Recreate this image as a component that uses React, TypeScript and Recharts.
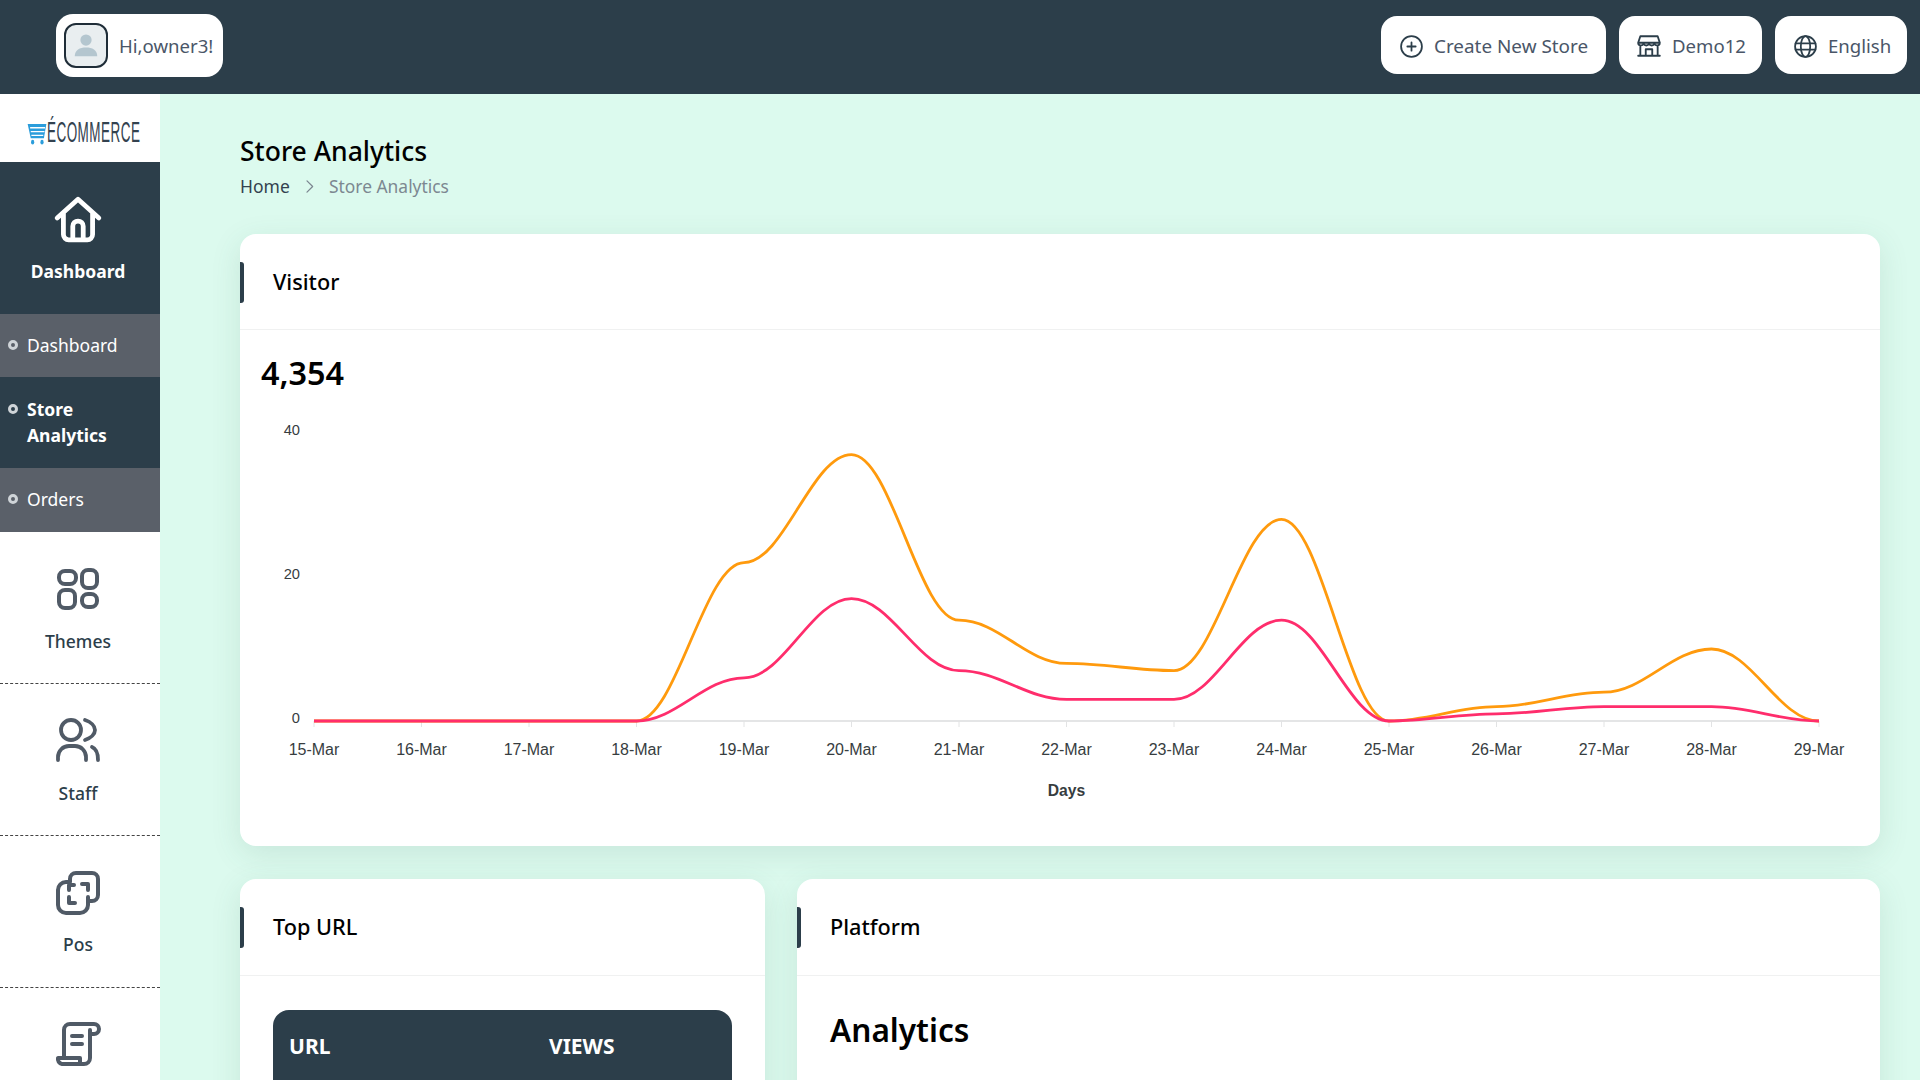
import { Label, Line, LineChart, XAxis, YAxis } from "recharts";
import type { CSSProperties, ReactNode } from "react";

const DAYS = [
  "15-Mar", "16-Mar", "17-Mar", "18-Mar", "19-Mar", "20-Mar", "21-Mar", "22-Mar",
  "23-Mar", "24-Mar", "25-Mar", "26-Mar", "27-Mar", "28-Mar", "29-Mar",
];
const PAGE_VIEWS = [0, 0, 0, 0, 22, 37, 14, 8, 7, 28, 0, 2, 4, 10, 0];
const UNIQUE_VISITORS = [0, 0, 0, 0, 6, 17, 7, 3, 3, 14, 0, 1, 2, 2, 0];
const Y_TICKS = [0, 20, 40];

const rows = DAYS.map((day, i) => ({ day, views: PAGE_VIEWS[i], unique: UNIQUE_VISITORS[i] }));

const DARK = "#2c3e4a";
const UI_FONT = "'Noto Sans', sans-serif";
const CHART_FONT = "'Liberation Sans', sans-serif";

// flat tangents at every point, like bumpX but with shorter handles
function flatSpline(context: any) {
  let px = 0;
  let py = 0;
  let n = 0;
  return {
    areaStart() {},
    areaEnd() {},
    lineStart() {
      n = 0;
    },
    lineEnd() {},
    point(x: number, y: number) {
      if (n === 0) {
        context.moveTo(x, y);
      } else {
        const d = (x - px) * 0.37;
        context.bezierCurveTo(px + d, py, x - d, y, x, y);
      }
      px = x;
      py = y;
      n++;
    },
  };
}

function Box({ x, y, w, h, style, children }: { x: number; y: number; w: number; h: number; style?: CSSProperties; children?: ReactNode }) {
  return <div style={{ position: "absolute", left: x, top: y, width: w, height: h, ...style }}>{children}</div>;
}

// cy is the vertical centre of the text line
function Txt({ x, cy, size, color = "#000", weight = 400, center, children }: { x: number; cy: number; size: number; color?: string; weight?: number; center?: boolean; children: ReactNode }) {
  return (
    <div
      style={{
        position: "absolute",
        left: x,
        top: cy - size,
        height: size * 2,
        lineHeight: `${size * 2}px`,
        fontSize: size,
        fontWeight: weight,
        color,
        whiteSpace: "nowrap",
        fontFamily: UI_FONT,
        transform: center ? "translateX(-50%)" : undefined,
      }}
    >
      {children}
    </div>
  );
}

function Icon({ cx, cy, size, stroke, sw = 2, children }: { cx: number; cy: number; size: number; stroke: string; sw?: number; children: ReactNode }) {
  return (
    <svg
      viewBox="0 0 24 24"
      width={size}
      height={size}
      fill="none"
      stroke={stroke}
      strokeWidth={sw}
      strokeLinecap="round"
      strokeLinejoin="round"
      style={{ position: "absolute", left: cx - size / 2, top: cy - size / 2 }}
    >
      {children}
    </svg>
  );
}

function Pill({ x, y, w, h, radius = 16 }: { x: number; y: number; w: number; h: number; radius?: number }) {
  return <Box x={x} y={y} w={w} h={h} style={{ background: "#fff", borderRadius: radius }} />;
}

function SideDot({ cy }: { cy: number }) {
  return <Box x={8} y={cy - 5} w={10} h={10} style={{ boxSizing: "border-box", border: "3px solid #cfd4d8", borderRadius: "50%" }} />;
}

function Card({ x, y, w, h, sep, title }: { x: number; y: number; w: number; h: number; sep: number; title: string }) {
  return (
    <>
      <Box x={x} y={y} w={w} h={h} style={{ background: "#fff", borderRadius: 16, boxShadow: "0 8px 30px rgba(60,110,95,0.13)" }} />
      <Box x={x} y={y + 28} w={4} h={41} style={{ background: DARK, borderRadius: "0 3px 3px 0" }} />
      <Box x={x} y={y + sep} w={w} h={1} style={{ background: "#f0f1f1" }} />
      <Txt x={x + 33} cy={y + 48} size={21.7} weight={500}>{title}</Txt>
    </>
  );
}

function VisitorChart() {
  return (
    <LineChart
      width={1640}
      height={400}
      data={rows}
      margin={{ top: 13, right: 61, bottom: 39, left: 14 }}
      style={{ position: "absolute", left: 240, top: 420 }}
    >
      <XAxis
        dataKey="day"
        interval={0}
        height={60}
        axisLine={{ stroke: "#e4e5e6", strokeWidth: 2 }}
        tickLine={{ stroke: "#e2e3e4" }}
        tickSize={6}
        tickMargin={17}
        tick={{ fill: "#373d3f", fontSize: 16, fontFamily: CHART_FONT }}
      >
        <Label
          value="Days"
          position="bottom"
          offset={4}
          style={{ fill: "#373d3f", fontSize: 15.7, fontWeight: 700, fontFamily: CHART_FONT }}
        />
      </XAxis>
      <YAxis
        domain={[0, 40]}
        ticks={Y_TICKS}
        width={60}
        axisLine={false}
        tickLine={false}
        tickMargin={8}
        tick={{ fill: "#373d3f", fontSize: 14.7, dy: -3, fontFamily: CHART_FONT }}
      />
      <Line dataKey="views" type={flatSpline as any} stroke="#ff9a0d" strokeWidth={2.8} dot={false} isAnimationActive={false} zIndex={600} />
      <Line dataKey="unique" type={flatSpline as any} stroke="#ff2d6c" strokeWidth={2.8} dot={false} isAnimationActive={false} zIndex={601} />
    </LineChart>
  );
}

export default function App() {
  return (
    <div style={{ position: "absolute", left: 0, top: 0, width: 1920, height: 1080, overflow: "hidden", background: "#dcfaee", fontFamily: UI_FONT }}>
      {/* top bar */}
      <Box x={0} y={0} w={1920} h={94} style={{ background: DARK }} />
      <Pill x={56} y={14} w={167} h={63} radius={17} />
      <Box x={64} y={23} w={44} h={45} style={{ boxSizing: "border-box", background: "#e9eef0", border: `2.5px solid #1f2d38`, borderRadius: 12 }} />
      <svg viewBox="0 0 24 24" width={30} height={30} style={{ position: "absolute", left: 71, top: 30 }} fill="#b4c6cf">
        <circle cx="12" cy="8" r="4.5" />
        <path d="M3 21c0-5 4-7 9-7s9 2 9 7z" />
      </svg>
      <Txt x={119} cy={46} size={18.6} color="#4a5668">Hi,owner3!</Txt>

      <Pill x={1381} y={16} w={225} h={58} />
      <Icon cx={1411} cy={46} size={25} stroke={DARK} sw={1.7}>
        <circle cx="12" cy="12" r="10" />
        <path d="M12 8v8M8 12h8" />
      </Icon>
      <Txt x={1434} cy={47} size={18.9} color="#4a5668">Create New Store</Txt>

      <Pill x={1619} y={16} w={143} h={58} />
      <Icon cx={1649} cy={46} size={26} stroke={DARK} sw={1.7}>
        <path d="M4 3h16l2 6H2zM2 9c0 3 4 3 5 1 1 2 4 2 5 0 1 2 4 2 5 0 1 2 5 2 5-1M4 12v9h16v-9M2 21h20M9 21v-6h6v6" />
      </Icon>
      <Txt x={1672} cy={46} size={18.6} color="#4a5668">Demo12</Txt>

      <Pill x={1775} y={16} w={132} h={58} />
      <Icon cx={1805} cy={46} size={25} stroke={DARK} sw={1.7}>
        <circle cx="12" cy="12" r="10" />
        <ellipse cx="12" cy="12" rx="4.5" ry="10" />
        <path d="M2.5 9h19M2.5 15h19" />
      </Icon>
      <Txt x={1828} cy={46} size={18.6} color="#4a5668">English</Txt>

      {/* sidebar */}
      <Box x={0} y={94} w={160} h={986} style={{ background: "#fff" }} />
      <svg viewBox="0 0 32 24" width={20} height={23} preserveAspectRatio="none" style={{ position: "absolute", left: 27, top: 122 }}>
        <path d="M1 2h30l-4 15H6z" fill="#2b9ddb" />
        <path d="M5 6h24M6 10h22M7 14h19" stroke="#fff" strokeWidth={1.4} />
        <circle cx="9" cy="21" r="2.6" fill="#2b9ddb" />
        <circle cx="24" cy="21" r="2.6" fill="#2b9ddb" />
      </svg>
      <div
        style={{
          position: "absolute",
          left: 47,
          top: 117,
          fontSize: 29,
          lineHeight: "30px",
          color: "#33424f",
          fontFamily: CHART_FONT,
          letterSpacing: 1,
          transform: "scaleX(0.465)",
          transformOrigin: "0 0",
          whiteSpace: "nowrap",
        }}
      >
        ÉCOMMERCE
      </div>

      <Box x={0} y={162} w={160} h={152} style={{ background: DARK }} />
      <Box x={0} y={314} w={160} h={63} style={{ background: "#5a6069" }} />
      <Box x={0} y={377} w={160} h={91} style={{ background: DARK }} />
      <Box x={0} y={468} w={160} h={64} style={{ background: "#5a6069" }} />

      <Icon cx={78} cy={220} size={50} stroke="#fff" sw={2.3}>
        <path d="M2 11 12 2l10 9M5 9v10a2.5 2.5 0 0 0 2.5 2.5h9A2.5 2.5 0 0 0 19 19V9M9.5 21v-6a2.5 2.5 0 0 1 5 0v6" />
      </Icon>
      <Txt x={78} cy={271} size={17.5} color="#fff" weight={700} center>Dashboard</Txt>

      <SideDot cy={345} />
      <Txt x={27} cy={345} size={17.5} color="#fff">Dashboard</Txt>
      <SideDot cy={409} />
      <Txt x={27} cy={409} size={17.5} color="#fff" weight={700}>Store</Txt>
      <Txt x={27} cy={435} size={17.5} color="#fff" weight={700}>Analytics</Txt>
      <SideDot cy={499} />
      <Txt x={27} cy={499} size={17.5} color="#fff">Orders</Txt>

      <Icon cx={78} cy={589} size={48} stroke="#505a66" sw={2}>
        <rect x="2.5" y="3" width="8.5" height="6.5" rx="3" />
        <rect x="14" y="2.5" width="7.5" height="9" rx="3" />
        <rect x="2.5" y="12.5" width="8" height="9" rx="3" />
        <rect x="14" y="14.5" width="7.5" height="6.5" rx="3" />
      </Icon>
      <Txt x={78} cy={641} size={17.5} color={DARK} weight={500} center>Themes</Txt>
      <Box x={0} y={683} w={160} h={0} style={{ borderTop: "1.5px dashed #444" }} />

      <Icon cx={78} cy={740} size={48} stroke="#505a66" sw={1.9}>
        <circle cx="8.5" cy="7" r="5" />
        <path d="M15.5 2C18.5 3 20.5 5 20.500 7C20.500 9 18.5 11 15.500 12" />
        <path d="M2 22v-1.500a5.500 5.500 0 0 1 5.500-5.500h3a5.500 5.500 0 0 1 5.500 5.500V22" />
        <path d="M19 15.500c2 .8 3 2.500 3 6.500" />
      </Icon>
      <Txt x={78} cy={793} size={17.5} color={DARK} weight={500} center>Staff</Txt>
      <Box x={0} y={835} w={160} h={0} style={{ borderTop: "1.5px dashed #444" }} />

      <Icon cx={78} cy={893} size={48} stroke="#505a66" sw={2}>
        <path d="M8 6.500V5a3 3 0 0 1 3-3h8a3 3 0 0 1 3 3v8a3 3 0 0 1-3 3h-2v2a4 4 0 0 1-4 4H6a4 4 0 0 1-4-4v-7.500a4 4 0 0 1 4-4z" />
        <path d="M14 7.500h3v3M10.500 17h-3v-3M7.500 10.500v-2.500h2.500M17 14v2" />
      </Icon>
      <Txt x={78} cy={944} size={17.5} color={DARK} weight={500} center>Pos</Txt>
      <Box x={0} y={987} w={160} h={0} style={{ borderTop: "1.5px dashed #444" }} />

      <Icon cx={78} cy={1044} size={48} stroke="#505a66" sw={2}>
        <path d="M5 19V5a3 3 0 0 1 3-3h12M20 2a2.500 2.500 0 0 1 0 5h-2V5M18 7v12a3 3 0 0 1-3 3H4a2.500 2.500 0 0 1-2-3h11v2M9 8h5M9 12h5" />
      </Icon>

      {/* page head */}
      <Txt x={240} cy={151} size={26.5} weight={500}>Store Analytics</Txt>
      <Txt x={240} cy={186} size={17.5} color="#33424f">Home</Txt>
      <Icon cx={309} cy={186} size={15} stroke="#7b8690" sw={2}>
        <path d="M8 3l9 9-9 9" />
      </Icon>
      <Txt x={329} cy={186} size={17.4} color="#7c8891">Store Analytics</Txt>

      {/* cards */}
      <Card x={240} y={234} w={1640} h={612} sep={95} title="Visitor" />
      <Txt x={261} cy={372} size={32.4} weight={600}>4,354</Txt>
      <VisitorChart />

      <Card x={240} y={879} w={525} h={300} sep={96} title="Top URL" />
      <Box x={273} y={1010} w={459} h={100} style={{ background: DARK, borderRadius: 16 }} />
      <Txt x={289} cy={1046} size={21} color="#fff" weight={700}>URL</Txt>
      <Txt x={549} cy={1046} size={21} color="#fff" weight={700}>VIEWS</Txt>

      <Card x={797} y={879} w={1083} h={300} sep={96} title="Platform" />
      <Txt x={830} cy={1030} size={31.6} weight={600}>Analytics</Txt>
    </div>
  );
}
